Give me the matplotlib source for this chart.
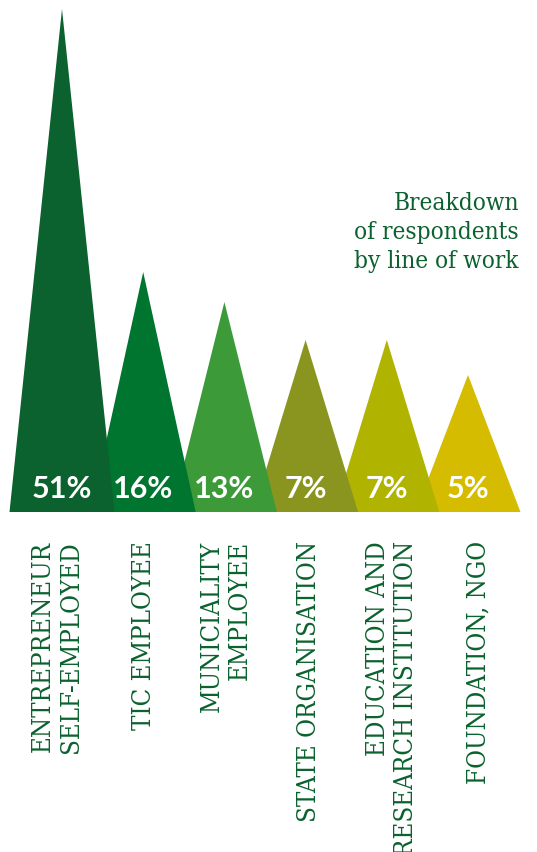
import matplotlib
matplotlib.use("Agg")
import matplotlib.pyplot as plt
from matplotlib.patches import Polygon

# ---- data ----
categories = ["ENTREPRENEUR\nSELF-EMPLOYED", "TIC EMPLOYEE", "MUNICIALITY\nEMPLOYEE",
              "STATE ORGANISATION", "EDUCATION AND\nRESEARCH INSTITUTION", "FOUNDATION, NGO"]
values = [51, 16, 13, 7, 7, 5]
value_labels = ["51%", "16%", "13%", "7%", "7%", "5%"]
# peak heights of the triangles as drawn in the design (not proportional to values)
peak_heights = [503, 240, 210, 172, 172, 137]
colors = ["#0b622e", "#00752f", "#3c9a38", "#8a9520", "#b0b300", "#d5bc00"]
title = "Breakdown\nof respondents\nby line of work"

W, H = 537, 853
fig = plt.figure(figsize=(W / 100, H / 100), dpi=100)
ax = fig.add_axes([0, 0, 1, 1])
step = 81.2
x0 = 62
ax.set_xlim(-x0 / step, (W - x0) / step)
base_px = 513
ax.set_ylim(-(H - base_px), base_px)
ax.axis("off")

half = 52.5 / step
for i in reversed(range(len(values))):
    h = peak_heights[i]
    tri = Polygon([(i - half, 0), (i, h), (i + half, 0)], closed=True,
                  facecolor=colors[i], edgecolor="none", zorder=10 - i)
    ax.add_patch(tri)
    ax.text(i, 24, value_labels[i], ha="center", va="center", color="white",
            fontsize=22, fontweight="bold", family="Lato", zorder=20)

label_offsets = [-0.07, 0, 0.01, 0.03, 0.06, 0.12]
for i, lab in enumerate(categories):
    ax.text(i + label_offsets[i], -28, lab, rotation=90, ha="center", va="top",
            multialignment="right", color="#0b622e", fontsize=18.5,
            family="DejaVu Serif", linespacing=1.12, fontstretch="condensed")

fig.text(519 / W, 1 - 192 / H, title, ha="right", va="top", color="#0b622e",
         fontsize=17.5, family="DejaVu Serif", linespacing=1.32,
         fontstretch="condensed")

fig.savefig("out.png", dpi=100, facecolor="white")
